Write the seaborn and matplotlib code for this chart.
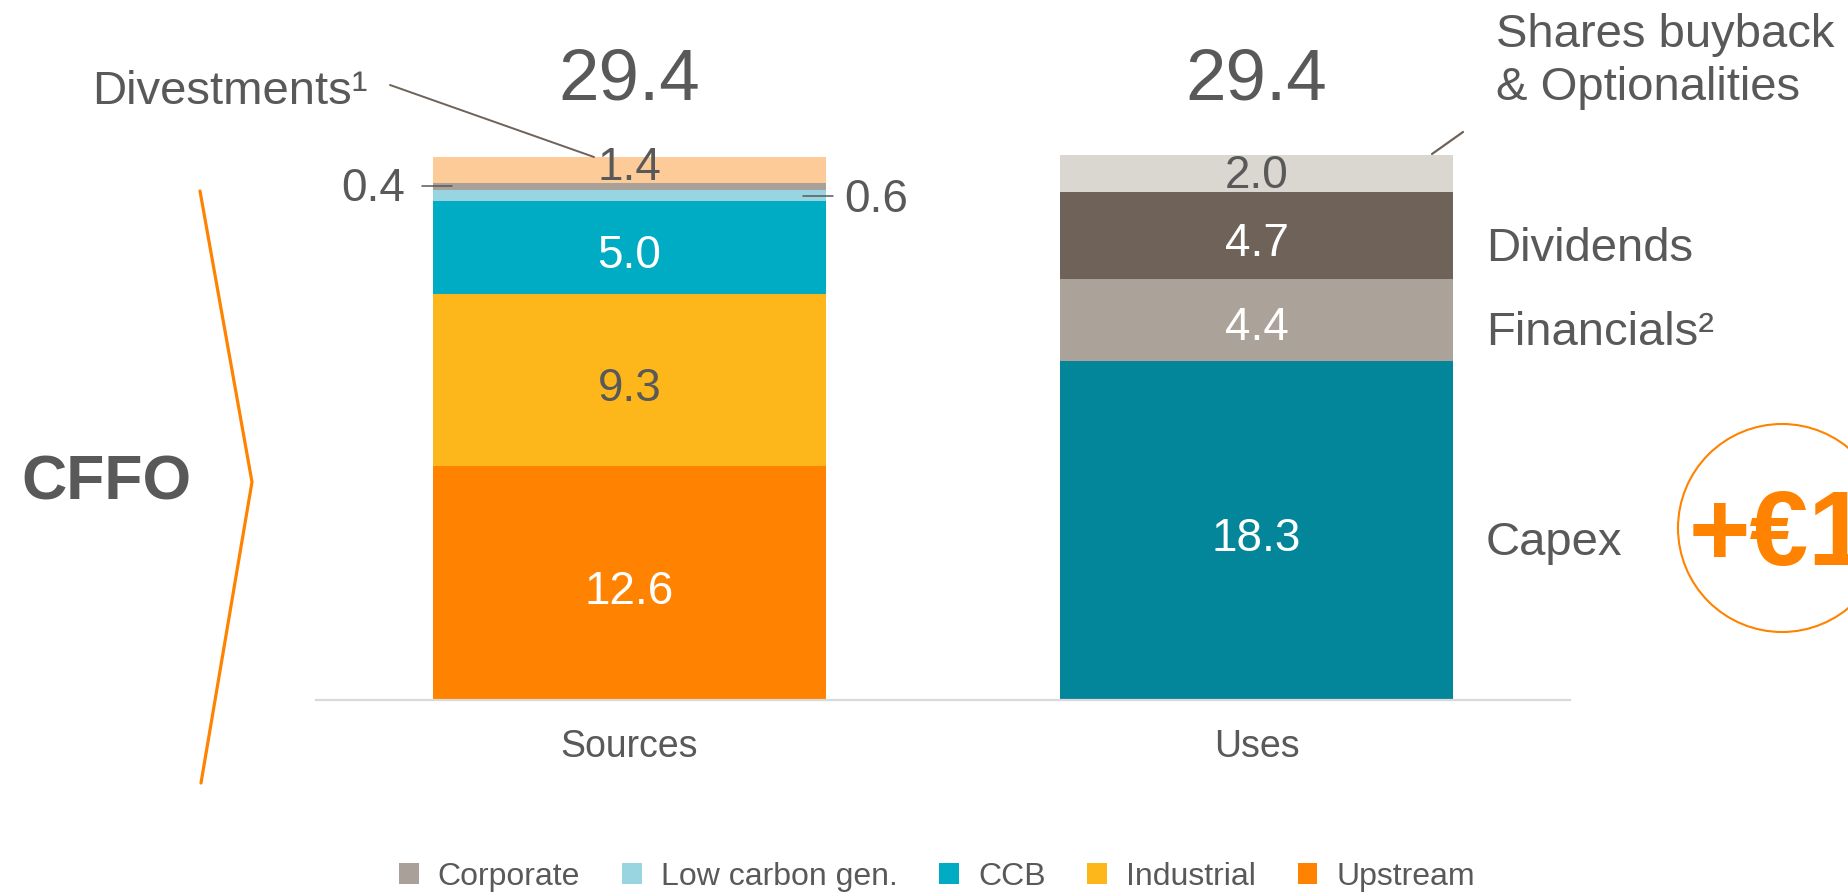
import numpy as np
import matplotlib
matplotlib.use("Agg")
import matplotlib.pyplot as plt
from matplotlib.patches import Patch, Ellipse
from matplotlib.lines import Line2D
from matplotlib.transforms import blended_transform_factory
import seaborn as sns

# ---------------- data ----------------
bars = ["Sources", "Uses"]
sources_segments = ["Upstream", "Industrial", "CCB", "Low carbon gen.", "Corporate", "Divestments"]
sources_values = [12.6, 9.3, 5.0, 0.6, 0.4, 1.4]
uses_segments = ["Capex", "Financials", "Dividends", "Shares buyback"]
uses_values = [18.3, 4.4, 4.7, 2.0]
totals = [29.4, 29.4]
legend_labels = ["Corporate", "Low carbon gen.", "CCB", "Industrial", "Upstream"]
uses_side_labels = {"Capex": "Capex", "Financials": "Financials\u00b2", "Dividends": "Dividends"}

# ---------------- style ----------------
sns.set_style("white")
plt.rcParams["font.family"] = ["Liberation Sans", "DejaVu Sans"]
GREY = "#595959"
ORANGE = "#FF8200"
LEADER = "#6E6259"
seg_colors = {
    "Upstream": "#FF8200",
    "Industrial": "#FDB71A",
    "CCB": "#00ACC4",
    "Low carbon gen.": "#99D5E0",
    "Corporate": "#A9A199",
    "Divestments": "#FDCB98",
    "Capex": "#03869A",
    "Financials": "#ABA39A",
    "Dividends": "#6E6259",
    "Shares buyback": "#DAD6D0",
}
value_colors = {
    "Upstream": "white", "Industrial": GREY, "CCB": "white", "Divestments": GREY,
    "Capex": "white", "Financials": "white", "Dividends": "white", "Shares buyback": GREY,
}
value_nudge_px = {"Divestments": -6, "Shares buyback": -2}

W, H = 1848, 894
fig = plt.figure(figsize=(W / 100, H / 100), dpi=100)
ax = fig.add_axes([316 / W, 1 - 700 / H, (1570 - 316) / W, 700 / H])
PXU = 18.54  # pixels per unit
ax.set_ylim(0, 700 / PXU)
bar_width = 0.626

VAL_FS = 33
LAB_FS = 34


def fpx(x, y):
    return (x / W, 1 - y / H)


stacks = {}
for name, segs, vals in [("Sources", sources_segments, sources_values),
                         ("Uses", uses_segments, uses_values)]:
    bottoms = np.concatenate([[0.0], np.cumsum(vals)[:-1]])
    stacks[name] = dict(zip(segs, zip(vals, bottoms)))
    for seg, v, b in zip(segs, vals, bottoms):
        sns.barplot(x=[name], y=[v], order=bars, color=seg_colors[seg], width=bar_width,
                    saturation=1, linewidth=0, bottom=float(b), errorbar=None, ax=ax)

ax.set_xlim(-0.5, 1.5)
ax.set_xticks([0, 1])
ax.set_xticklabels(bars, fontsize=27, color=GREY)
ax.tick_params(axis="x", length=0, pad=21)
ax.set_yticks([])
ax.set_xlabel("")
ax.set_ylabel("")
for s in ["top", "left", "right"]:
    ax.spines[s].set_visible(False)
ax.spines["bottom"].set_color("#D9D9D9")
ax.spines["bottom"].set_linewidth(1.6)

# value labels inside bars
cap_half = 0.716 * VAL_FS / 0.72 / 2
for xi, name in enumerate(bars):
    for seg, (v, b) in stacks[name].items():
        if seg not in value_colors:
            continue
        nudge = value_nudge_px.get(seg, 4)
        y = b + v / 2 - (nudge + cap_half) / PXU
        ax.text(xi, y, f"{v:.1f}", ha="center", va="baseline", fontsize=VAL_FS,
                color=value_colors[seg])

# totals
for xi, t in enumerate(totals):
    ax.text(xi, t + (700 - 100) / PXU - t, f"{t:.1f}", ha="center", va="baseline",
            fontsize=52.5, color=GREY, clip_on=False)

# side labels for Uses
tr = blended_transform_factory(ax.transAxes, ax.transData)
xs_lab = (1486 - 316) / (1570 - 316)
for seg, txt in uses_side_labels.items():
    v, b = stacks["Uses"][seg]
    ax.text(xs_lab, b + v / 2 - 25 / PXU, txt, transform=tr, ha="left", va="baseline",
            fontsize=LAB_FS, color=GREY, clip_on=False)

# 0.4 (Corporate) and 0.6 (Low carbon) annotations
edge_l = 0 - bar_width / 2
edge_r = 0 + bar_width / 2
v, b = stacks["Sources"]["Corporate"]
yc = b + v / 2
ax.plot([edge_l - 0.018, edge_l + 0.030], [yc, yc], color=GREY, lw=1.1, clip_on=False)
ax.text(edge_l - 0.045, yc - 15 / PXU, f"{v:.1f}", ha="right", va="baseline",
        fontsize=VAL_FS, color=GREY, clip_on=False)
v, b = stacks["Sources"]["Low carbon gen."]
yc = b + v / 2
ax.plot([edge_r - 0.0365, edge_r + 0.011], [yc, yc], color=GREY, lw=1.1, clip_on=False)
ax.text(edge_r + 0.030, yc - 16.5 / PXU, f"{v:.1f}", ha="left", va="baseline",
        fontsize=VAL_FS, color=GREY, clip_on=False)

# Divestments label + leader
fig.text(*fpx(92, 104), "Divestments\u00b9", ha="left", va="baseline", fontsize=LAB_FS, color=GREY)
fig.add_artist(Line2D([390 / W, 594 / W], [1 - 85 / H, 1 - 157 / H], color=LEADER, lw=1.4))

# Shares buyback label + leader
fig.text(*fpx(1496, 47), "Shares buyback", ha="left", va="baseline", fontsize=LAB_FS, color=GREY)
fig.text(*fpx(1496, 100), "& Optionalities", ha="left", va="baseline", fontsize=LAB_FS, color=GREY)
fig.add_artist(Line2D([1432 / W, 1463 / W], [1 - 154 / H, 1 - 132 / H], color=LEADER, lw=1.6))

# CFFO + chevron
fig.text(*fpx(21, 499), "CFFO", ha="left", va="baseline", fontsize=45, fontweight="bold", color=GREY)
fig.add_artist(Line2D([200 / W, 252 / W, 201 / W], [1 - 191 / H, 1 - 482 / H, 1 - 783 / H],
                      color=ORANGE, lw=2.3, solid_joinstyle="miter"))

# circle with +€1
fig.add_artist(Ellipse(fpx(1782, 528), 208 / W, 208 / H, fill=False, edgecolor=ORANGE, lw=1.5))
fig.text(*fpx(1689, 565), "+\u20ac1", ha="left", va="baseline", fontsize=76, fontweight="bold", color=ORANGE)

# legend
handles = [Patch(facecolor=seg_colors[l], edgecolor="none", label=l) for l in legend_labels]
fig.legend(handles=handles, loc="center", bbox_to_anchor=fpx(937, 877), ncol=5, frameon=False,
           fontsize=23, handlelength=0.62, handleheight=0.62, handletextpad=0.6,
           columnspacing=1.3, labelcolor=GREY)

fig.savefig("out.png", dpi=100)
